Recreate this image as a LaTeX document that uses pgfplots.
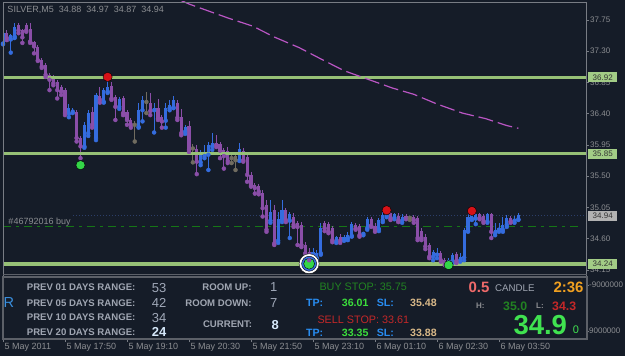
\documentclass[border=0pt]{standalone}
\usepackage{pgfplots}
\pgfplotsset{compat=1.18}
\usepackage{pgfplotstable}
\usepackage{fontspec}
\setmainfont{Liberation Sans}

\definecolor{bg}{RGB}{21,28,40}
\definecolor{frame}{RGB}{120,124,132}
\definecolor{framedark}{RGB}{92,96,104}
\definecolor{cblue}{RGB}{52,108,222}
\definecolor{cpurple}{RGB}{138,78,168}
\definecolor{cgray}{RGB}{112,108,96}
\definecolor{lvl}{RGB}{150,192,118}
\definecolor{lvlbox}{RGB}{162,204,134}
\definecolor{ma}{RGB}{186,86,196}
\definecolor{txtgray}{RGB}{140,142,146}
\definecolor{ordline}{RGB}{44,62,104}
\definecolor{ddgreen}{RGB}{22,118,22}
\definecolor{dotred}{RGB}{214,18,24}
\definecolor{dotgreen}{RGB}{52,214,72}
\definecolor{panelgray}{RGB}{160,166,178}
\definecolor{tpblue}{RGB}{40,140,240}
\definecolor{tpgreen}{RGB}{60,222,60}
\definecolor{sltan}{RGB}{216,184,136}
\definecolor{buygreen}{RGB}{34,130,34}
\definecolor{sellred}{RGB}{196,40,40}
\definecolor{salmon}{RGB}{240,106,106}
\definecolor{orange}{RGB}{240,160,32}
\definecolor{bigreen}{RGB}{64,226,80}
\definecolor{rblue}{RGB}{58,144,224}
\definecolor{valgray}{RGB}{160,168,184}
\definecolor{valbright}{RGB}{214,232,250}

\pgfplotstableread{
k o h l c
0 37.41 37.57 37.40 37.56
2 37.47 37.55 37.28 37.53
3 37.51 37.70 37.49 37.65
17 36.40 36.54 36.35 36.48
18 36.43 36.48 36.41 36.46
21 35.93 36.28 35.91 36.24
22 36.12 36.45 36.08 36.41
24 36.05 36.70 36.02 36.67
26 36.57 36.77 36.56 36.74
27 36.72 36.89 36.70 36.79
30 36.50 36.64 36.47 36.61
35 36.21 36.56 36.20 36.45
36 36.45 36.66 36.29 36.60
39 36.45 36.56 36.13 36.48
42 36.30 36.56 36.20 36.48
43 36.48 36.60 36.45 36.53
44 36.49 36.66 36.48 36.60
47 36.14 36.24 36.11 36.21
51 35.70 35.88 35.66 35.81
52 35.79 35.95 35.76 35.85
53 35.81 35.99 35.59 35.95
54 35.93 36.12 35.88 35.98
61 35.73 35.98 35.72 35.89
69 34.86 35.16 34.83 34.99
71 34.57 34.99 34.54 34.89
72 34.87 35.16 34.84 35.01
74 34.86 34.99 34.61 34.95
80 34.32 34.47 34.29 34.41
81 34.32 34.44 34.27 34.40
82 34.39 34.83 34.37 34.76
86 34.56 34.64 34.54 34.62
88 34.58 34.65 34.57 34.63
89 34.61 34.70 34.58 34.66
90 34.64 34.84 34.63 34.81
93 34.67 34.70 34.65 34.69
94 34.75 34.91 34.73 34.88
97 34.74 34.90 34.71 34.87
98 34.87 34.99 34.84 34.94
99 34.93 35.04 34.91 34.99
101 34.90 34.97 34.88 34.95
103 34.86 34.96 34.83 34.92
111 34.34 34.44 34.29 34.41
112 34.37 34.47 34.32 34.40
115 34.25 34.32 34.22 34.29
116 34.28 34.40 34.25 34.37
118 34.29 34.40 34.27 34.34
119 34.33 34.76 34.29 34.73
120 34.71 34.99 34.70 34.92
121 34.89 35.01 34.87 34.97
122 34.89 34.97 34.81 34.95
125 34.85 34.97 34.83 34.95
127 34.68 34.83 34.65 34.73
128 34.73 34.83 34.70 34.76
129 34.73 34.91 34.70 34.80
130 34.80 34.94 34.77 34.90
132 34.86 34.93 34.83 34.89
133 34.88 34.97 34.87 34.94
}\upc

\pgfplotstableread{
k o h l c
1 37.56 37.60 37.46 37.49
4 37.68 37.70 37.56 37.60
5 37.61 37.62 37.42 37.50
6 37.68 37.70 37.58 37.60
7 37.62 37.71 37.42 37.44
8 37.44 37.45 37.27 37.37
9 37.36 37.39 37.16 37.17
10 37.17 37.20 37.06 37.08
11 37.10 37.13 36.93 36.96
12 36.96 36.99 36.74 36.89
13 36.93 36.96 36.81 36.84
14 36.86 36.89 36.62 36.74
15 36.78 36.81 36.67 36.72
16 36.74 36.77 36.38 36.41
19 36.43 36.45 36.00 36.05
20 36.05 36.08 35.76 35.93
23 36.43 36.50 36.20 36.24
25 36.66 36.78 36.56 36.60
28 36.80 36.86 36.60 36.62
29 36.64 36.67 36.31 36.50
31 36.62 36.66 36.38 36.41
32 36.43 36.45 36.24 36.31
33 36.31 36.34 36.20 36.24
38 36.56 36.70 36.38 36.44
40 36.48 36.61 36.31 36.33
41 36.36 36.38 36.20 36.29
45 36.56 36.60 36.31 36.34
46 36.35 36.47 36.09 36.12
48 36.22 36.29 35.85 35.88
50 35.89 35.95 35.53 35.71
55 35.98 36.09 35.92 35.95
56 35.96 35.99 35.76 35.87
57 35.88 35.91 35.61 35.79
58 35.87 35.92 35.69 35.72
62 35.87 35.91 35.71 35.73
63 35.77 35.81 35.42 35.52
64 35.52 35.56 35.35 35.37
65 35.37 35.40 35.25 35.33
66 35.36 35.39 35.24 35.28
67 35.26 35.30 34.92 35.04
68 35.09 35.16 34.70 34.73
70 35.01 35.09 34.51 34.53
73 35.01 35.04 34.84 34.87
75 34.92 34.97 34.77 34.80
76 34.82 34.86 34.51 34.77
77 34.80 34.84 34.48 34.51
78 34.51 34.55 34.35 34.39
79 34.41 34.47 34.25 34.29
83 34.82 34.86 34.71 34.75
84 34.81 34.84 34.68 34.70
85 34.75 34.78 34.55 34.58
87 34.63 34.67 34.54 34.57
91 34.80 34.83 34.73 34.75
92 34.79 34.81 34.63 34.65
95 34.88 34.91 34.77 34.79
96 34.79 34.82 34.70 34.73
100 34.97 34.99 34.87 34.89
102 34.93 34.97 34.84 34.86
104 34.93 34.96 34.88 34.90
106 34.92 34.94 34.83 34.87
107 34.90 34.93 34.58 34.61
108 34.71 34.76 34.58 34.61
109 34.63 34.67 34.45 34.49
110 34.51 34.54 34.32 34.34
113 34.39 34.42 34.27 34.29
114 34.29 34.32 34.22 34.25
117 34.38 34.41 34.25 34.28
123 34.95 34.97 34.88 34.90
124 34.93 34.96 34.83 34.85
126 34.95 34.97 34.61 34.70
131 34.90 34.93 34.83 34.85
}\dnc

\pgfplotstableread{
k o h l c
34 36.24 36.29 36.00 36.24
37 36.57 36.72 36.41 36.57
49 35.90 35.96 35.70 35.90
59 35.76 35.85 35.69 35.76
60 35.79 35.85 35.59 35.73
105 34.90 34.93 34.87 34.90
}\dojc

\pgfplotstableread{
k ma
46 38.03
48 37.98
51 37.92
58 37.78
64.5 37.66
70 37.505
76.5 37.35
82 37.19
88 37.02
94 36.90
100.5 36.77
106 36.68
112 36.54
118.5 36.41
124.5 36.33
130 36.23
133 36.19
}\matab

\pgfplotsset{
  candle/.style={only marks, mark=none, #1, error bars/.cd, y dir=plus, y explicit, error mark=none},
}

\begin{document}
\begin{tikzpicture}
\useasboundingbox (0pt,0pt) rectangle (625pt,-356pt);
\fill[bg] (0pt,0pt) rectangle (625pt,-356pt);

\begin{axis}[
  at={(3pt,-2pt)}, anchor=north west, scale only axis,
  width=583pt, height=272pt,
  xmin=0, xmax=150.45, ymin=34.092, ymax=38.009,
  axis line style={draw=none},
  xtick=\empty,
  ytick={34.15,34.60,35.05,35.50,35.95,36.40,36.85,37.30,37.75},
  yticklabels={34.15,34.60,35.05,35.50,35.95,36.40,36.85,37.30,37.75},
  ytick pos=right, yticklabel pos=right,
  tick align=outside, major tick length=3pt,
  tick style={frame, line width=0.8pt},
  yticklabel style={font=\fontsize{8}{9}\selectfont, text=txtgray, anchor=west, inner sep=0pt, xshift=1pt},
  clip=true,
]
% order line and dash-dot line
\addplot[ordline, line width=1pt, dotted] coordinates {(18,34.935) (150.45,34.935)};
\addplot[ddgreen, line width=1pt, dash pattern=on 8pt off 5pt on 3pt off 5pt] coordinates {(0,34.78) (148.5,34.78)};

% wicks
\addplot[candle=cblue, error bar style={line width=1pt, draw=cblue}]
  table[x=k, y=l, y error plus expr=\thisrow{h}-\thisrow{l}] {\upc};
\addplot[candle=cpurple, error bar style={line width=1pt, draw=cpurple}]
  table[x=k, y=l, y error plus expr=\thisrow{h}-\thisrow{l}] {\dnc};
\addplot[candle=cgray, error bar style={line width=1pt, draw=cgray}]
  table[x=k, y=l, y error plus expr=\thisrow{h}-\thisrow{l}] {\dojc};
% bodies
\addplot[candle=cblue, error bar style={line width=3.2pt, draw=cblue}]
  table[x=k, y=o, y error plus expr=\thisrow{c}-\thisrow{o}] {\upc};
\addplot[candle=cpurple, error bar style={line width=3.2pt, draw=cpurple}]
  table[x=k, y=c, y error plus expr=\thisrow{o}-\thisrow{c}] {\dnc};
\addplot[candle=cgray, error bar style={line width=3.2pt, draw=cgray}]
  table[x=k, y=c, y error plus expr=\thisrow{o}-\thisrow{c}] {\dojc};
\addplot[only marks, mark=-, mark size=1.6pt, mark options={line width=1pt, draw=cgray}]
  table[x=k, y=o] {\dojc};

% levels
\addplot[lvl, line width=3.6pt] coordinates {(0,36.92) (150.45,36.92)};
\addplot[lvl, line width=3.6pt] coordinates {(0,35.83) (150.45,35.83)};
\addplot[lvl, line width=3.6pt] coordinates {(0,34.24) (150.45,34.24)};

% moving average
\addplot[ma, line width=1.2pt, dash pattern=on 15pt off 5pt] table[x=k, y=ma] {\matab};

% fractal dots
\addplot[only marks, mark=*, mark size=4.6pt, mark options={draw=none, fill=dotred}]
  coordinates {(27,36.93) (99,35.01) (121,35.00)};
\addplot[only marks, mark=*, mark size=4.6pt, mark options={draw=none, fill=dotgreen}]
  coordinates {(20,35.66) (115,34.22)};
% circle marker
\addplot[only marks, mark=*, mark size=10pt, mark options={draw=none, fill=white}] coordinates {(79,34.24)};
\addplot[only marks, mark=*, mark size=7.5pt, mark options={draw=none, fill=cblue}] coordinates {(79,34.24)};
\addplot[only marks, mark=*, mark size=5.5pt, mark options={draw=none, fill=dotgreen}] coordinates {(79,34.24)};
\addplot[candle=cpurple, error bar style={line width=3.2pt, draw=cpurple}]
  coordinates {(79,34.29) +- (0,0.12)};
\end{axis}

% sub window axis with time scale
\begin{axis}[
  at={(3pt,-277pt)}, anchor=north west, scale only axis,
  width=583pt, height=62pt,
  xmin=0, xmax=150.45, ymin=0, ymax=62,
  axis line style={draw=none},
  xtick={0,16,32,48,64,80,96,112,128},
  xticklabels={5 May 2011,5 May 17:50,5 May 19:10,5 May 20:30,5 May 21:50,5 May 23:10,6 May 01:10,6 May 02:30,6 May 03:50},
  xtick pos=bottom, xticklabel pos=bottom,
  ytick={8,54}, yticklabels={9000000,-9000000},
  ytick pos=right, yticklabel pos=right,
  tick align=outside, major tick length=3pt,
  tick style={frame, line width=0.8pt},
  xticklabel style={font=\fontsize{9}{10}\selectfont, text=txtgray, anchor=north west, inner sep=0pt, xshift=1.5pt, yshift=-1pt},
  yticklabel style={font=\fontsize{8}{9}\selectfont, text=txtgray, anchor=west, inner sep=0pt, xshift=0pt},
]
\addplot[draw=none] coordinates {(0,0) (1,1)};
\end{axis}

\begin{scope}[x=1pt, y=-1pt]
% frames
\draw[frame, line width=1pt] (3,2) -- (586,2);
\draw[frame, line width=1pt] (3,2) -- (3,339);
\draw[frame, line width=1pt] (586,2) -- (586,277);
\draw[framedark, line width=2pt] (3,277) rectangle (587,339);
\draw[framedark, line width=1pt] (3,274.5) -- (587,274.5);

% level boxes
\node[fill=lvlbox, inner sep=0pt, minimum width=29pt, minimum height=10pt, anchor=west, text=black!80, font=\fontsize{8}{9}\selectfont] at (588,77.4) {36.92};
\node[fill=lvlbox, inner sep=0pt, minimum width=29pt, minimum height=10pt, anchor=west, text=black!80, font=\fontsize{8}{9}\selectfont] at (588,153.7) {35.85};
\node[fill=black!30, inner sep=0pt, minimum width=29pt, minimum height=10pt, anchor=west, text=black!80, font=\fontsize{8}{9}\selectfont] at (588,216) {34.94};
\node[fill=lvlbox, inner sep=0pt, minimum width=29pt, minimum height=10pt, anchor=west, text=black!80, font=\fontsize{8}{9}\selectfont] at (588,263.5) {34.24};

% chart texts
\node[anchor=base west, inner sep=0pt, text=txtgray, font=\fontsize{9}{10}\selectfont] at (7.3,12.5) {SILVER,M5\ \ 34.88\ \ 34.97\ \ 34.87\ \ 34.94};
\node[anchor=base west, inner sep=0pt, text=txtgray, font=\fontsize{9}{10}\selectfont] at (8.3,224) {\#46792016 buy};

% panel
\node[anchor=base west, inner sep=0pt, text=rblue, font=\fontsize{14.5}{16}\selectfont] at (3.5,307.7) {R};
\foreach \t/\yy in {PREV 01 DAYS RANGE:/290.5, PREV 05 DAYS RANGE:/306.8, PREV 10 DAYS RANGE:/320.8, PREV 20 DAYS RANGE:/335.8}
  \node[anchor=base west, inner sep=0pt, text=panelgray, font=\bfseries\fontsize{9.6}{11}\selectfont] at (26.7,\yy) {\t};
\node[anchor=base west, inner sep=0pt, text=valgray, font=\fontsize{13}{14}\selectfont] at (151.7,292) {53};
\node[anchor=base west, inner sep=0pt, text=valgray, font=\fontsize{13}{14}\selectfont] at (151.7,307.6) {42};
\node[anchor=base west, inner sep=0pt, text=valgray, font=\fontsize{13}{14}\selectfont] at (151.7,322.3) {34};
\node[anchor=base west, inner sep=0pt, text=valbright, font=\bfseries\fontsize{13}{14}\selectfont] at (151.7,336.8) {24};
\node[anchor=base east, inner sep=0pt, text=panelgray, font=\bfseries\fontsize{9.6}{11}\selectfont] at (251.7,290.8) {ROOM UP:};
\node[anchor=base east, inner sep=0pt, text=panelgray, font=\bfseries\fontsize{9.6}{11}\selectfont] at (251.7,306.8) {ROOM DOWN:};
\node[anchor=base east, inner sep=0pt, text=panelgray, font=\bfseries\fontsize{9.6}{11}\selectfont] at (252.3,327.8) {CURRENT:};
\node[anchor=base west, inner sep=0pt, text=valgray, font=\fontsize{13}{14}\selectfont] at (270,291.7) {1};
\node[anchor=base west, inner sep=0pt, text=valgray, font=\fontsize{13}{14}\selectfont] at (270,307.7) {7};
\node[anchor=base west, inner sep=0pt, text=valbright, font=\bfseries\fontsize{13}{14}\selectfont] at (271.5,329) {8};

\node[anchor=base west, inner sep=0pt, text=buygreen, font=\fontsize{10.8}{12}\selectfont] at (319.3,290.6) {BUY STOP: 35.75};
\node[anchor=base west, inner sep=0pt, text=sellred, font=\fontsize{10.8}{12}\selectfont] at (317.3,323.2) {SELL STOP: 33.61};
\foreach \yy/\tp/\sl in {306.2/36.01/35.48, 336.2/33.35/33.88}{
  \node[anchor=base west, inner sep=0pt, text=tpblue, font=\bfseries\fontsize{10.6}{12}\selectfont] at (306,\yy) {TP:};
  \node[anchor=base west, inner sep=0pt, text=tpgreen, font=\bfseries\fontsize{10.6}{12}\selectfont] at (341.7,\yy) {\tp};
  \node[anchor=base west, inner sep=0pt, text=tpblue, font=\bfseries\fontsize{10.6}{12}\selectfont] at (376.7,\yy) {SL:};
  \node[anchor=base west, inner sep=0pt, text=sltan, font=\bfseries\fontsize{10.6}{12}\selectfont] at (410,\yy) {\sl};
}
\node[anchor=base west, inner sep=0pt, text=salmon, font=\bfseries\fontsize{15}{17}\selectfont] at (468.3,292.7) {0.5};
\node[anchor=base west, inner sep=0pt, text=panelgray, font=\fontsize{9.7}{11}\selectfont] at (495,291.8) {CANDLE};
\node[anchor=base west, inner sep=0pt, text=orange, font=\bfseries\fontsize{15}{17}\selectfont] at (553.3,292.7) {2:36};
\node[anchor=base west, inner sep=0pt, text=txtgray, font=\bfseries\fontsize{8}{9}\selectfont] at (476,308.9) {H:};
\node[anchor=base west, inner sep=0pt, text=buygreen, font=\bfseries\fontsize{12.3}{14}\selectfont] at (503,310.4) {35.0};
\node[anchor=base west, inner sep=0pt, text=txtgray, font=\bfseries\fontsize{8}{9}\selectfont] at (536,308.9) {L:};
\node[anchor=base west, inner sep=0pt, text=sellred, font=\bfseries\fontsize{12.3}{14}\selectfont] at (552,310.4) {34.3};
\node[anchor=base west, inner sep=0pt, text=bigreen, font=\bfseries\fontsize{27.5}{30}\selectfont] at (513.3,334.8) {34.9};
\node[anchor=base west, inner sep=0pt, text=bigreen, font=\fontsize{11}{12}\selectfont] at (572.7,333.2) {0};
\end{scope}
\end{tikzpicture}
\end{document}
